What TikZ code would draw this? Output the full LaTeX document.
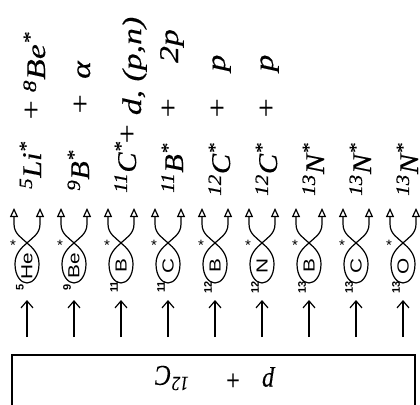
\documentclass[tikz,border=0pt]{standalone}
\usepackage{fontspec}
\newfontfamily\tms{Liberation Serif}[UprightFeatures={FakeBold=0.3}, ItalicFeatures={FakeBold=0.3}]
\newfontfamily\hel{Liberation Sans}
\usetikzlibrary{arrows.meta}
\newcommand{\vt}[1]{\scalebox{1.25}[1]{\tms\itshape #1}}
\newcommand{\vn}[1]{\scalebox{1.12}[1]{\tms\itshape #1}}
\newcommand{\myup}[1]{\textsuperscript{#1}}
\begin{document}
\begin{tikzpicture}[x=1pt,y=-1pt,
  big/.style={inner sep=0pt, font=\fontsize{27}{30}\selectfont},
  nuc/.style={big, rotate=90, anchor=base west},
  prod/.style={big, rotate=90, anchor=base},
  hz/.style={inner sep=0pt, rotate=180, font=\fontsize{24}{28}\selectfont},
  elem/.style={rotate=90, inner sep=0pt, font=\hel\fontsize{16}{18}\selectfont},
  mass/.style={rotate=90, inner sep=0pt, font=\hel\bfseries\fontsize{11}{12}\selectfont},
  star/.style={inner sep=0pt, font=\hel\fontsize{15}{16}\selectfont},
  ribbon/.style={line width=1.2pt, {Triangle[open,length=9pt,width=8pt]}-{Triangle[open,length=9pt,width=8pt]}},
  feed/.style={line width=1.2pt, -{Straight Barb[length=7pt,width=12pt,line width=1.2pt]}},
  boxst/.style={draw, line width=1.4pt, minimum width=403pt, minimum height=70pt, inner sep=0pt}
]
\useasboundingbox (0,0) rectangle (420,404);
\clip (0,0) rectangle (420,404);
\fill[white] (0,0) rectangle (420,404);

% reaction box
\node[boxst] (box) at (213.5,390) {};
\node[hz] (rp) at (268,377) {\scalebox{1}[1.2]{\tms\itshape p}};
\node[hz] (rplus) at (233,379) {\scalebox{1}[1.2]{\tms +}};
\node[hz] (rc) at (172,378) {\scalebox{1}[1.2]{\tms\itshape \myup{12}C}};

\foreach \i/\el/\ms in {1/He/5, 2/Be/9, 3/B/11, 4/C/11, 5/B/12, 6/N/12, 7/B/13, 8/C/13, 9/O/13} {
  \pgfmathsetmacro\cx{27+47*(\i-1)}
  \coordinate (src\i) at (\cx,337);
  \coordinate (tip\i) at (\cx,300);
  \draw[feed] (src\i) -- (tip\i);
  \node[elem] (el\i) at (\cx,266) {\scalebox{1.3}[1]{\el}};
  \node[mass] (ms\i) at (\cx-7,287) {\ms};
  \node[star] (st\i) at (\cx-14,245) {*};
  \draw[ribbon] (\cx-13,208) -- (\cx-13,224)
     .. controls (\cx-13,234) and (\cx-5,238) .. (\cx,243)
     .. controls (\cx+6,248) and (\cx+12,254) .. (\cx+12,264)
     .. controls (\cx+12,276) and (\cx+6,283) .. (\cx,283)
     .. controls (\cx-6,283) and (\cx-12,276) .. (\cx-12,264)
     .. controls (\cx-12,254) and (\cx-6,248) .. (\cx,243)
     .. controls (\cx+5,238) and (\cx+13,234) .. (\cx+13,224)
     -- (\cx+13,208);
}

% excited nuclei
\node[nuc] (n1) at (41,189) {\vn{\myup{5}Li\myup{*}}};
\node[nuc] (n2) at (89,191) {\vn{\myup{9}B\myup{*}}};
\node[nuc] (n3) at (136,193) {\vn{\myup{11}C\myup{*}}};
\node[nuc] (n4) at (183,193) {\vn{\myup{11}B\myup{*}}};
\node[nuc] (n5) at (230,196) {\vn{\myup{12}C\myup{*}}};
\node[nuc] (n6) at (277,196) {\vn{\myup{12}C\myup{*}}};
\node[nuc] (n7) at (324,196) {\vn{\myup{13}N\myup{*}}};
\node[nuc] (n8) at (371,196) {\vn{\myup{13}N\myup{*}}};
\node[nuc] (n9) at (418,196) {\vn{\myup{13}N\myup{*}}};

% decay products
\node[prod] (p1a) at (40,110) {\vt{+}};
\node[prod] (p1b) at (45,62) {\vt{\myup{8}Be\myup{*}}};
\node[prod] (p2a) at (89,104) {\vt{+}};
\node[prod] (p2b) at (90,70) {\vt{α}};
\node[prod] (p3a) at (136,134) {\vt{+}};
\node[prod] (p3b) at (141,66) {\vt{d, (p,n)}};
\node[prod] (p4a) at (177,108) {\vt{+}};
\node[prod] (p4b) at (178,46) {\vt{2p}};
\node[prod] (p5a) at (226,108) {\vt{+}};
\node[prod] (p5b) at (225,63) {\vt{p}};
\node[prod] (p6a) at (275,108) {\vt{+}};
\node[prod] (p6b) at (273,63) {\vt{p}};
\end{tikzpicture}
\end{document}
